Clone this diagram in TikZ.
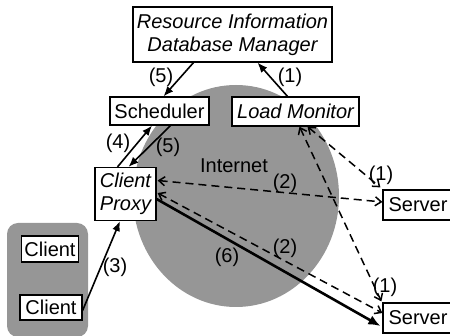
\documentclass[tikz,border=0pt]{standalone}
\usepackage{fontspec}
\setmainfont{Liberation Sans}
\usetikzlibrary{arrows.meta,calc}
\definecolor{halftone}{RGB}{150,150,150}
\begin{document}
\begin{tikzpicture}[x=1pt,y=-1pt,
  txt/.style={font=\fontsize{20}{23}\selectfont},
  box/.style={draw, line width=1.2pt, fill=white, inner sep=0pt, align=center, txt},
  itbox/.style={box, font=\fontsize{20}{23}\selectfont\itshape},
  solidarr/.style={line width=1.6pt, -{Latex[length=10pt,width=8pt]}},
  thickarr/.style={line width=2.6pt, -{Latex[length=12pt,width=10pt]}},
  dasharr/.style={line width=1.5pt, dash pattern=on 8pt off 5pt,
    {Straight Barb[length=6pt,width=9pt,line width=1.5pt]}-{Straight Barb[length=6pt,width=9pt,line width=1.5pt]}},
  lbl/.style={txt, inner sep=0pt}]
\useasboundingbox (0,0) rectangle (450,336);
% Internet cloud
\fill[halftone] (236,196) ellipse [x radius=103pt, y radius=111pt];
% client group
\fill[halftone, rounded corners=11pt] (7,223) rectangle (88,337);
% nodes
\node[itbox, minimum width=199pt, minimum height=55pt] (db) at (232.5,34.5) {Resource Information\\Database Manager};
\node[box, minimum width=99pt, minimum height=28pt] (sched) at (159.5,111) {Scheduler};
\node[itbox, minimum width=127pt, minimum height=29pt] (lm) at (295.5,111.5) {Load Monitor};
\node[itbox, minimum width=61pt, minimum height=53pt] (proxy) at (125.5,194) {Client\\Proxy};
\node[box, minimum width=70pt, minimum height=30pt] (s1) at (418,205) {Server};
\node[box, minimum width=70pt, minimum height=30pt] (s2) at (418,318) {Server};
\node[box, minimum width=57pt, minimum height=26pt] (c1) at (50,249) {Client};
\node[box, minimum width=62pt, minimum height=25pt] (c2) at (51,307.5) {Client};
\node[lbl] (inet) at (234,166) {Internet};
% solid connectors
\draw[solidarr] ($(db.south)+(-39,0)$) -- ($(sched.north)+(4,0)$);
\draw[solidarr] ($(lm.north)+(-8,0)$) -- ($(db.south)+(25,0)$);
\draw[solidarr] ($(proxy.north)+(-8,0)$) -- ($(sched.south)+(-7.5,0)$);
\draw[solidarr] ($(sched.south)+(11,0)$) -- ($(proxy.north)+(3,0)$);
\draw[solidarr] ($(c2.east)+(0,3)$) -- ($(proxy.south)+(-5.5,0)$);
\draw[thickarr] ($(proxy.east)+(0,5)$) -- ($(s2.west)+(-2,8)$);
% dashed connectors
\draw[dasharr] ($(proxy.east)+(1,-13.5)$) -- ($(s1.west)+(0,-3)$);
\draw[dasharr] ($(proxy.east)+(1,-1)$) -- ($(s2.west)+(0,-5)$);
\draw[dasharr] ($(lm.south)+(12,0)$) -- ($(s1.north west)+(-2,-2)$);
\draw[dasharr] ($(lm.south)+(4,0)$) -- ($(s2.north west)+(-1,-1)$);
% labels
\node[lbl] (l5a) at (161,77) {(5)};
\node[lbl] (l1a) at (290,77) {(1)};
\node[lbl] (l4) at (118,143) {(4)};
\node[lbl] (l5b) at (168,147) {(5)};
\node[lbl] (l2a) at (285,183) {(2)};
\node[lbl] (l2b) at (285,248) {(2)};
\node[lbl] (l6) at (227,257) {(6)};
\node[lbl] (l3) at (115,267) {(3)};
\node[lbl] (l1b) at (381,175) {(1)};
\node[lbl] (l1c) at (385,287) {(1)};
\end{tikzpicture}
\end{document}
